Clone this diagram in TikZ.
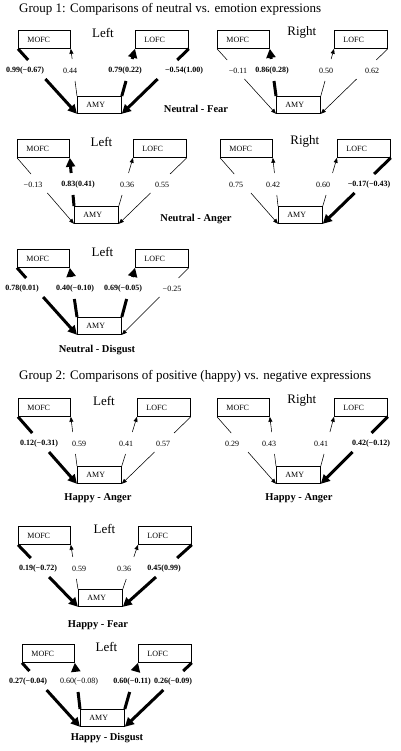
\documentclass[tikz,border=0pt]{standalone}
\usepackage{fontspec}
\setmainfont{Liberation Serif}
\usetikzlibrary{arrows.meta,calc}
\tikzset{
  box/.style={draw, line width=0.8pt, anchor=north west, inner xsep=9pt, inner ysep=0pt,
    minimum height=18pt, align=left, font=\fontsize{8}{9}\selectfont},
  sidelab/.style={font=\fontsize{13}{14}\selectfont, inner sep=0pt},
  wlab/.style={font=\fontsize{8}{9}\selectfont, inner sep=0pt},
  caption/.style={font=\fontsize{10.5}{12}\selectfont\bfseries, inner sep=0pt},
  grouptitle/.style={font=\fontsize{13}{14}\selectfont, inner sep=0pt, anchor=west},
  tn/.style={line width=0.55pt, line cap=butt, -{Triangle[length=5pt,width=4pt]}},
  tk/.style={line width=3pt, line cap=butt, -{Triangle[length=9pt,width=9pt]}},
}
% #1 prefix, #2 MOFC x, #3 MOFC y, #4 LOFC x, #5 AMY x, #6 AMY y, #7 side text
\newcommand\fig[7]{%
  \node[box, text width=34pt] (#1m) at (#2,#3) {MOFC};
  \node[box, text width=35pt] (#1l) at (#4,#3) {LOFC};
  \node[box, text width=26pt, minimum height=17pt] (#1a) at (#5,#6) {AMY};
  \node[sidelab] (#1s) at ($(#1m.north east)!0.5!(#1l.north west)+(0,2.5)$) {#7};
}
% downward connector with gap around label row #4
\newcommand\dlink[4]{%
  \draw[#1,-] (#2) -- (intersection of #2--#3 and 0,{#4-11}--1,{#4-11});
  \draw[#1] (intersection of #2--#3 and 0,{#4+8}--1,{#4+8}) -- (#3);
}
% upward connector with gap around label row #4
\newcommand\ulink[4]{%
  \draw[#1,-] (#2) -- (intersection of #2--#3 and 0,{#4+10}--1,{#4+10});
  \draw[#1] (intersection of #2--#3 and 0,{#4-12}--1,{#4-12}) -- (#3);
}
% #1 prefix, #2 label y, #3..#6 styles
\newcommand\links[6]{%
  \dlink{#3}{#1m.south west}{#1a.south west}{#2}
  \ulink{#4}{#1a.north west}{#1m.south east}{#2}
  \ulink{#5}{#1a.north east}{#1l.south west}{#2}
  \dlink{#6}{#1l.south east}{#1a.south east}{#2}
}
\begin{document}
\begin{tikzpicture}[x=1pt, y=-1pt]
\fill[white] (0,0) rectangle (400,751);
\useasboundingbox (0,0) rectangle (400,751);

\node[grouptitle] (g1) at (19,9) {Group 1: Comparisons of neutral vs. emotion expressions};

% Row 1 left
\fig{a}{18}{30}{135}{77}{96}{Left}
\links{a}{71}{tk}{tn}{tk}{tk}
\node[wlab] (a1) at (25,71) {\textbf{0.99(−0.67)}};
\node[wlab] (a2) at (70,71) {0.44};
\node[wlab] (a3) at (125,71) {\textbf{0.79(0.22)}};
\node[wlab] (a4) at (184,71) {\textbf{−0.54(1.00)}};

% Row 1 right
\fig{b}{217}{30}{334}{276}{96}{Right}
\links{b}{71}{tn}{tk}{tn}{tn}
\node[wlab] (b1) at (238,71) {−0.11};
\node[wlab] (b2) at (272,71) {\textbf{0.86(0.28)}};
\node[wlab] (b3) at (326,71) {0.50};
\node[wlab] (b4) at (372,71) {0.62};
\node[caption] (c1) at (196,109) {Neutral - Fear};

% Row 2 left
\fig{c}{17}{139}{133}{74}{206}{Left}
\links{c}{185}{tn}{tk}{tn}{tn}
\node[wlab] (c1w) at (33,185) {−0.13};
\node[wlab] (c2w) at (78,185) {\textbf{0.83(0.41)}};
\node[wlab] (c3w) at (127,185) {0.36};
\node[wlab] (c4w) at (162,185) {0.55};

% Row 2 right
\fig{d}{220}{139}{337}{278}{206}{Right}
\links{d}{185}{tn}{tn}{tn}{tk}
\node[wlab] (d1) at (236,185) {0.75};
\node[wlab] (d2) at (273,185) {0.42};
\node[wlab] (d3) at (323,185) {0.60};
\node[wlab] (d4) at (369,185) {\textbf{−0.17(−0.43)}};
\node[caption] (c2) at (196,219) {Neutral - Anger};

% Row 3 left
\fig{e}{17}{249}{135}{77}{317}{Left}
\links{e}{289}{tk}{tk}{tk}{tn}
\node[wlab] (e1) at (22,289) {\textbf{0.78(0.01)}};
\node[wlab] (e2) at (75,289) {\textbf{0.40(−0.10)}};
\node[wlab] (e3) at (123,289) {\textbf{0.69(−0.05)}};
\node[wlab] (e4) at (172,289) {−0.25};
\node[caption] (c3) at (97,350) {Neutral - Disgust};

\node[grouptitle] (g2) at (19,376) {Group 2: Comparisons of positive (happy) vs. negative expressions};

% Row 4 left
\fig{f}{18}{398}{137}{77}{466}{Left}
\links{f}{444}{tk}{tn}{tn}{tn}
\node[wlab] (f1) at (39,444) {\textbf{0.12(−0.31)}};
\node[wlab] (f2) at (79,444) {0.59};
\node[wlab] (f3) at (126,444) {0.41};
\node[wlab] (f4) at (163,444) {0.57};
\node[caption] (c4) at (98,498) {Happy - Anger};

% Row 4 right
\fig{g}{217}{398}{334}{276}{466}{Right}
\links{g}{444}{tn}{tn}{tn}{tk}
\node[wlab] (g1w) at (232,444) {0.29};
\node[wlab] (g2w) at (269,444) {0.43};
\node[wlab] (g3w) at (321,444) {0.41};
\node[wlab] (g4w) at (371,444) {\textbf{0.42(−0.12)}};
\node[caption] (c5) at (299,498) {Happy - Anger};

% Row 5 left
\fig{h}{18}{526}{138}{78}{589}{Left}
\links{h}{569}{tk}{tn}{tn}{tk}
\node[wlab] (h1) at (38,569) {\textbf{0.19(−0.72)}};
\node[wlab] (h2) at (79,569) {0.59};
\node[wlab] (h3) at (124,569) {0.36};
\node[wlab] (h4) at (164,569) {\textbf{0.45(0.99)}};
\node[caption] (c6) at (98,625) {Happy - Fear};

% Row 6 left
\fig{i}{22}{644}{138}{80}{709}{Left}
\links{i}{682}{tk}{tk}{tk}{tk}
\node[wlab] (i1) at (28,682) {\textbf{0.27(−0.04)}};
\node[wlab] (i2) at (79,682) {0.60(−0.08)};
\node[wlab] (i3) at (132,682) {\textbf{0.60(−0.11)}};
\node[wlab] (i4) at (173,682) {\textbf{0.26(−0.09)}};
\node[caption] (c7) at (107,738) {Happy - Disgust};
\end{tikzpicture}
\end{document}
